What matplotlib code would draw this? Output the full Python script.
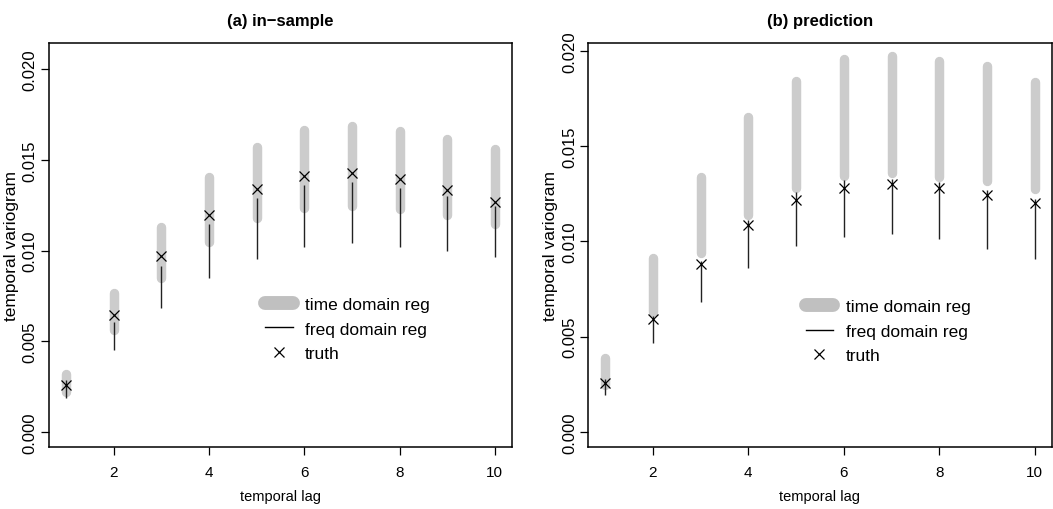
import numpy as np
import matplotlib
matplotlib.use("Agg")
import matplotlib.pyplot as plt
from matplotlib.lines import Line2D

# ---- data ----
lags = [1, 2, 3, 4, 5, 6, 7, 8, 9, 10]

# (a) in-sample
time_lo_a = [0.00222, 0.00565, 0.00847, 0.01047, 0.01179, 0.01236, 0.01245, 0.01230, 0.01195, 0.01144]
time_hi_a = [0.00318, 0.00764, 0.01132, 0.01407, 0.01572, 0.01664, 0.01686, 0.01659, 0.01615, 0.01558]
freq_lo_a = [0.00189, 0.00453, 0.00682, 0.00849, 0.00955, 0.01021, 0.01041, 0.01021, 0.00996, 0.00964]
freq_hi_a = [0.00288, 0.00608, 0.00913, 0.01144, 0.01289, 0.01362, 0.01375, 0.01345, 0.01301, 0.01246]
truth_a = [0.00262, 0.00644, 0.00971, 0.01195, 0.01337, 0.01411, 0.01426, 0.01393, 0.01333, 0.01270]

# (b) prediction
time_lo_b = [0.00247, 0.00628, 0.00940, 0.01141, 0.01279, 0.01344, 0.01360, 0.01339, 0.01316, 0.01277]
time_hi_b = [0.00386, 0.00911, 0.01340, 0.01655, 0.01844, 0.01957, 0.01975, 0.01950, 0.01919, 0.01837]
freq_lo_b = [0.00192, 0.00467, 0.00682, 0.00861, 0.00974, 0.01024, 0.01039, 0.01011, 0.00962, 0.00906]
freq_hi_b = [0.00280, 0.00610, 0.00900, 0.01114, 0.01261, 0.01321, 0.01330, 0.01310, 0.01270, 0.01225]
truth_b = [0.00255, 0.00595, 0.00880, 0.01087, 0.01216, 0.01282, 0.01302, 0.01282, 0.01242, 0.01200]

titles = ["(a) in\u2212sample", "(b) prediction"]
x_ticks = [2, 4, 6, 8, 10]
y_ticks = [0.000, 0.005, 0.010, 0.015, 0.020]
y_ticklabels = ["0.000", "0.005", "0.010", "0.015", "0.020"]

FONT = ["Liberation Sans", "DejaVu Sans"]
GRAY = "#cccccc"

fig = plt.figure(figsize=(10.53, 5.10), dpi=100)
ax_a = fig.add_axes([0.0465, 0.1216, 0.4397, 0.7921])
ax_b = fig.add_axes([0.5584, 0.1216, 0.4406, 0.7921])

panels = [
    (ax_a, time_lo_a, time_hi_a, freq_lo_a, freq_hi_a, truth_a, (-0.00082, 0.02143), 0.467, 0.372),
    (ax_b, time_lo_b, time_hi_b, freq_lo_b, freq_hi_b, truth_b, (-0.00079, 0.02042), 0.469, 0.367),
]

for i, (ax, tlo, thi, flo, fhi, tr, ylim, lx, ly) in enumerate(panels):
    # gray bars = time domain reg
    ax.vlines(lags, tlo, thi, colors=GRAY, linewidth=6.8, capstyle="round", zorder=1)
    # thin lines = freq domain reg
    ax.vlines(lags, flo, fhi, colors="#222222", linewidth=1.0, zorder=2)
    # truth
    ax.plot(lags, tr, linestyle="none", marker="x", color="black",
            markersize=7, markeredgewidth=0.9, zorder=3)

    ax.set_xlim(0.64, 10.36)
    ax.set_ylim(*ylim)
    ax.set_xticks(x_ticks)
    ax.set_xticklabels([str(t) for t in x_ticks], family=FONT, fontsize=11)
    ax.set_yticks(y_ticks)
    ax.set_yticklabels(y_ticklabels, family=FONT, fontsize=12, rotation=90, va="center")
    ax.tick_params(direction="out", length=6, width=0.9, color="black")
    ax.tick_params(axis="x", pad=7)
    ax.tick_params(axis="y", pad=2)
    for s in ax.spines.values():
        s.set_linewidth(1.1)

    ax.set_xlabel("temporal lag", family=FONT, fontsize=10.5, labelpad=7)
    ax.set_ylabel("temporal variogram", family=FONT, fontsize=12.5, labelpad=3)
    ax.set_title(titles[i], family=FONT, fontweight="bold", fontsize=12, pad=13)

    handles = [
        Line2D([], [], color="#c0c0c0", linewidth=10, solid_capstyle="round"),
        Line2D([], [], color="black", linewidth=1.0),
        Line2D([], [], color="black", linestyle="none", marker="x", markersize=7, markeredgewidth=0.9),
    ]
    ax.legend(handles, ["time domain reg", "freq domain reg", "truth"],
              loc="upper left", bbox_to_anchor=(lx, ly), frameon=False,
              prop={"family": FONT, "size": 12.5}, handlelength=1.6,
              handletextpad=0.7, labelspacing=0.55, borderpad=0, borderaxespad=0)

fig.savefig("out.png", dpi=100)
